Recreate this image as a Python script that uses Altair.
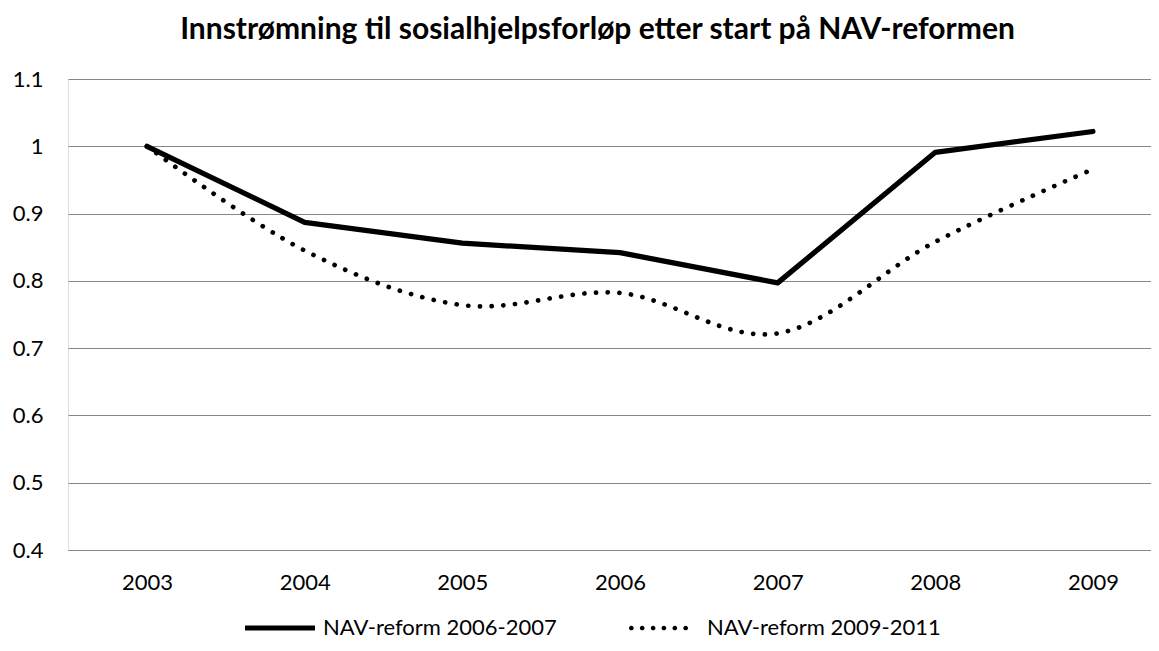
import altair as alt
import pandas as pd

years = [2003, 2004, 2005, 2006, 2007, 2008, 2009]
series_a_name = "NAV-reform 2006-2007"
series_b_name = "NAV-reform 2009-2011"
series_a = [1.0, 0.887, 0.856, 0.842, 0.797, 0.991, 1.022]
series_b = [1.0, 0.845, 0.764, 0.782, 0.722, 0.858, 0.966]
y_ticks = [0.4, 0.5, 0.6, 0.7, 0.8, 0.9, 1.0, 1.1]
title_text = "Innstrømning til sosialhjelpsforløp etter start på NAV-reformen"

df = pd.DataFrame(
    {
        "year": years * 2,
        "value": series_a + series_b,
        "series": [series_a_name] * len(years) + [series_b_name] * len(years),
    }
)

FONT = "Lato"

# legend symbol shapes (unit space -1..1, scaled by the symbol size)
solid_sym = "M-1,-0.074L1,-0.074L1,0.074L-1,0.074Z"
r = 0.067
dot_centers = [-0.933, -0.623, -0.311, -0.003, 0.309, 0.619]
dotted_sym = "".join(
    f"M{c - r:.3f},0A{r},{r} 0 1,0 {c + r:.3f},0A{r},{r} 0 1,0 {c - r:.3f},0Z"
    for c in dot_centers
)

x_enc = alt.X(
    "year:Q",
    scale=alt.Scale(domain=[2002.499, 2009.368], nice=False, zero=False),
    axis=alt.Axis(
        values=years, format="d", title=None, grid=False, ticks=False,
        domain=False, labelPadding=22, labelFontSize=22, labelFont=FONT,
        labelColor="#000000",
    ),
)
y_enc = alt.Y(
    "value:Q",
    scale=alt.Scale(domain=[0.4, 1.1], nice=False, zero=False),
    axis=alt.Axis(
        values=y_ticks, format=".1~f", title=None, ticks=False, domain=False,
        grid=True, gridColor="#878787", gridWidth=1.2, labelPadding=25,
        labelFontSize=22, labelFont=FONT, labelColor="#000000",
    ),
)

base = alt.Chart(df).encode(x=x_enc, y=y_enc)

solid = base.transform_filter(alt.datum.series == series_a_name).mark_line(
    color="#000000", strokeWidth=5.2, strokeCap="round", strokeJoin="round"
)
dotted = base.transform_filter(alt.datum.series == series_b_name).mark_line(
    color="#000000", strokeWidth=4.7, strokeCap="round", interpolate="cardinal",
    strokeDash=[0.1, 11.6],
)

legend_layer = base.transform_filter("false").mark_point(
    filled=True, color="#000000", size=4900, opacity=1
).encode(
    shape=alt.Shape(
        "series:N",
        scale=alt.Scale(domain=[series_a_name, series_b_name], range=[solid_sym, dotted_sym]),
        legend=alt.Legend(
            title=None, orient="none", legendX=177, legendY=514,
            direction="horizontal", symbolSize=4900, symbolStrokeWidth=0,
            symbolFillColor="#000000", symbolOpacity=1, labelFontSize=22,
            labelFont=FONT, labelColor="#000000", labelOffset=8,
            columnPadding=72, labelLimit=400,
        ),
    )
)

chart = (
    alt.layer(solid, dotted, legend_layer)
    .properties(
        width=1083,
        height=471,
        title=alt.TitleParams(
            text=title_text, font=FONT, fontSize=30, fontWeight="bold",
            color="#000000", anchor="middle", dx=-12, offset=23,
        ),
        autosize=alt.AutoSizeParams(type="none"),
        padding={"left": 60, "top": 71, "right": 0, "bottom": 92},
    )
    .configure_view(stroke=None)
    .configure(background="#ffffff")
)

chart.save("out.html", embed_options={"renderer": "svg", "actions": False})
